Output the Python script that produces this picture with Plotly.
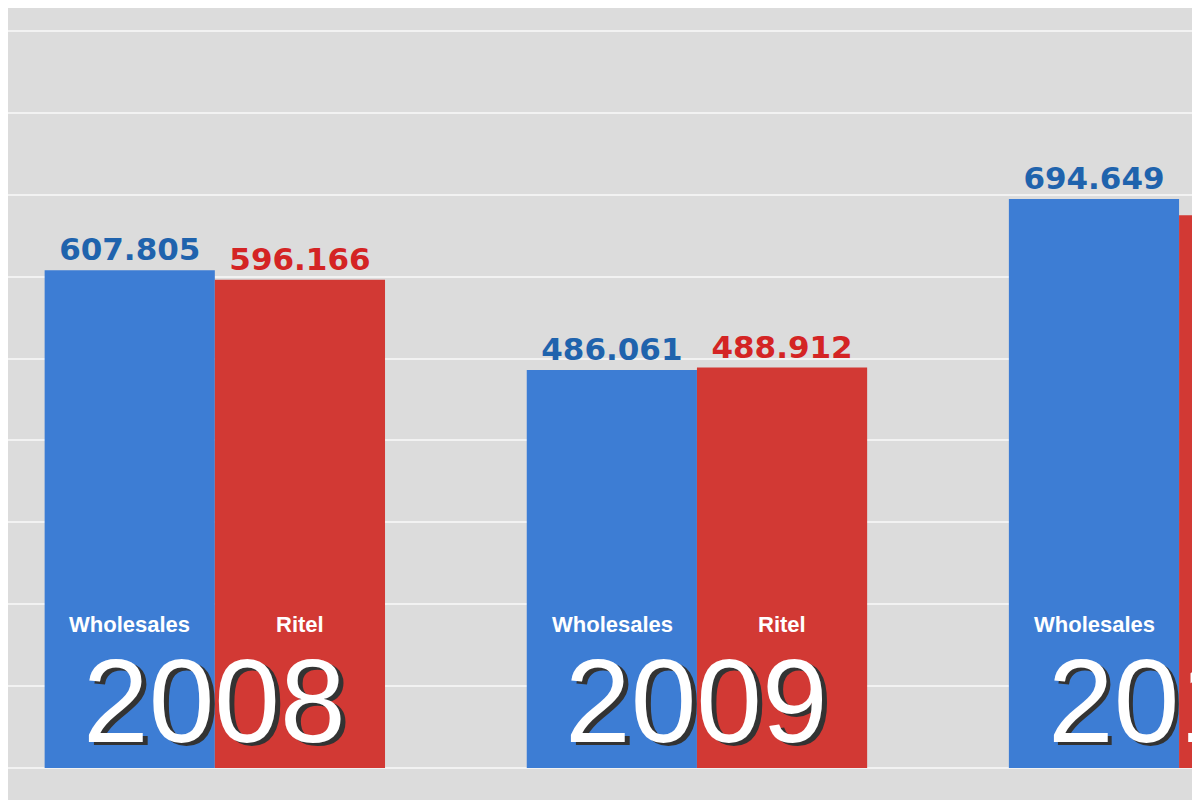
import plotly.graph_objects as go

years = ["2008", "2009", "2010"]
wholesales = [607805, 486061, 694649]
ritel = [596166, 488912, 675000]
wholesale_labels = ["607.805", "486.061", "694.649"]
ritel_labels = ["596.166", "488.912", "675.000"]

xpos = list(range(len(years)))
fig = go.Figure()
fig.add_bar(x=xpos, y=wholesales, name="Wholesales", marker=dict(color="#3d7dd4", line=dict(width=0)),
            text=["<b>%s</b>" % t for t in wholesale_labels], textposition="outside",
            textfont=dict(family="DejaVu Sans", size=31, color="#1f63ad"), cliponaxis=False)
fig.add_bar(x=xpos, y=ritel, name="Ritel", marker=dict(color="#d23934", line=dict(width=0)),
            text=["<b>%s</b>" % t for t in ritel_labels], textposition="outside",
            textfont=dict(family="DejaVu Sans", size=31, color="#d42424"), cliponaxis=False)

ann = []
for i, yr in enumerate(years):
    ann.append(dict(x=i - 0.176, y=175000, text="<b>Wholesales</b>", showarrow=False,
                    font=dict(family="Liberation Sans", size=22, color="white")))
    ann.append(dict(x=i + 0.176, y=175000, text="<b>Ritel</b>", showarrow=False,
                    font=dict(family="Liberation Sans", size=22, color="white")))
    ann.append(dict(x=i + 0.01, y=78000, text=yr, showarrow=False,
                    font=dict(family="Liberation Sans", size=118, color="#333333")))
    ann.append(dict(x=i, y=82000, text=yr, showarrow=False,
                    font=dict(family="Liberation Sans", size=118, color="white")))

fig.update_layout(
    width=1200, height=800, margin=dict(l=0, r=0, t=0, b=0),
    barmode="group", bargap=0.294, bargroupgap=0,
    showlegend=False, paper_bgcolor="#dadada", plot_bgcolor="#dcdcdc",
    xaxis=dict(range=[-0.429, 2.060], visible=False),
    yaxis=dict(range=[-48800, 928000], showgrid=True, gridcolor="#f2f2f2", gridwidth=2,
               dtick=100000, showticklabels=False, zeroline=False),
    annotations=ann,
)
fig.write_html("out.html")
